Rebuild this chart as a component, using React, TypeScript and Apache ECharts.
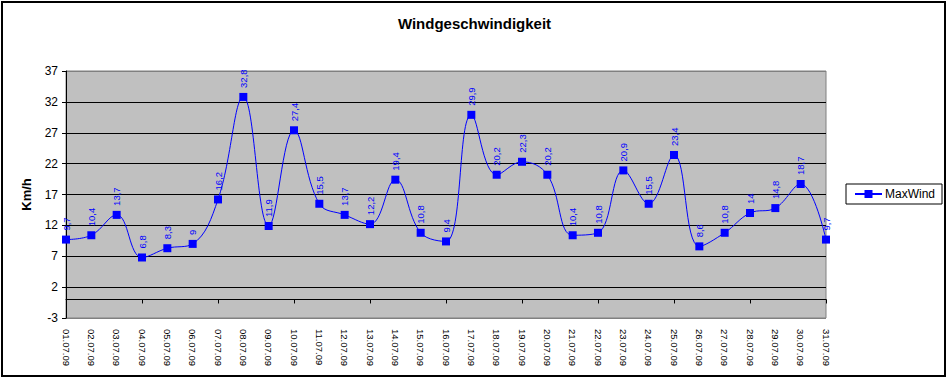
import React, { useEffect, useRef } from "react";
import * as echarts from "echarts";

const categories = [
  "01.07.09", "02.07.09", "03.07.09", "04.07.09", "05.07.09", "06.07.09", "07.07.09",
  "08.07.09", "09.07.09", "10.07.09", "11.07.09", "12.07.09", "13.07.09", "14.07.09",
  "15.07.09", "16.07.09", "17.07.09", "18.07.09", "19.07.09", "20.07.09", "21.07.09",
  "22.07.09", "23.07.09", "24.07.09", "25.07.09", "26.07.09", "27.07.09", "28.07.09",
  "29.07.09", "30.07.09", "31.07.09",
];

const maxWind = [
  9.7, 10.4, 13.7, 6.8, 8.3, 9, 16.2, 32.8, 11.9, 27.4, 15.5, 13.7, 12.2, 19.4, 10.8, 9.4,
  29.9, 20.2, 22.3, 20.2, 10.4, 10.8, 20.9, 15.5, 23.4, 8.6, 10.8, 14, 14.8, 18.7, 9.7,
];

const yMin = -3;
const yMax = 37;
const yStep = 5;

const FONT = "'Liberation Sans', Arial, sans-serif";

export default function App() {
  const ref = useRef<HTMLDivElement>(null);

  useEffect(() => {
    document.body.style.margin = "0";
    if (!ref.current) return;
    const chart = echarts.init(ref.current, null, { renderer: "svg" });
    chart.setOption({
      animation: false,
      backgroundColor: "#ffffff",
      textStyle: { fontFamily: FONT },
      graphic: [
        {
          type: "rect",
          shape: { x: 2, y: 2, width: 943, height: 374 },
          style: { fill: "none", stroke: "#000000", lineWidth: 2 },
          silent: true,
        },
      ],
      title: {
        text: "Windgeschwindigkeit",
        left: "center",
        top: 11,
        textStyle: { fontFamily: FONT, fontSize: 15, fontWeight: "bold", color: "#000000" },
      },
      legend: {
        left: 846,
        top: 184,
        orient: "vertical",
        padding: [4, 7, 4, 8],
        borderColor: "#000000",
        borderWidth: 1,
        backgroundColor: "#ffffff",
        itemWidth: 27,
        itemHeight: 10,
        itemGap: 3,
        textStyle: { fontFamily: FONT, fontSize: 12, color: "#000000", padding: [0, 0, 0, -2] },
        data: ["MaxWind"],
      },
      grid: {
        left: 66,
        right: 123,
        top: 71,
        bottom: 60,
        show: true,
        backgroundColor: "#C0C0C0",
        borderColor: "#808080",
        borderWidth: 1,
        containLabel: false,
        outerBoundsMode: "none",
      },
      xAxis: [
        {
          type: "category",
          data: categories,
          boundaryGap: false,
          axisLine: { show: true, onZero: true, lineStyle: { color: "#000000", width: 1 } },
          axisTick: { show: true, length: 4, inside: false, lineStyle: { color: "#000000" }, alignWithLabel: true },
          axisLabel: { show: false },
          splitLine: { show: false },
        },
        {
          type: "category",
          data: categories,
          boundaryGap: false,
          position: "bottom",
          axisLine: { show: false, onZero: false },
          axisTick: { show: false },
          axisLabel: {
            show: true,
            rotate: -90,
            interval: 0,
            margin: 11,
            fontFamily: FONT,
            fontSize: 9.5,
            color: "#000000",
          },
          splitLine: { show: false },
        },
      ],
      yAxis: {
        type: "value",
        min: yMin,
        max: yMax,
        interval: yStep,
        name: "Km/h",
        nameLocation: "middle",
        nameRotate: 90,
        nameGap: 33,
        nameTextStyle: { fontFamily: FONT, fontSize: 13, fontWeight: "bold", color: "#000000" },
        axisLine: { show: true, lineStyle: { color: "#000000", width: 1 } },
        axisTick: { show: true, length: 4, lineStyle: { color: "#000000" } },
        axisLabel: { fontFamily: FONT, fontSize: 12, color: "#000000", margin: 8 },
        splitLine: {
          show: true,
          lineStyle: {
            color: ["#808080", "#000000", "#000000", "#000000", "#000000", "#000000", "#000000", "#000000", "#808080"],
            width: 1,
          },
        },
      },
      series: [
        {
          name: "MaxWind",
          type: "line",
          xAxisIndex: 0,
          data: maxWind,
          smooth: 0.4,
          symbol: "rect",
          symbolSize: 8,
          showAllSymbol: true,
          lineStyle: { color: "#0000FF", width: 1 },
          itemStyle: { color: "#0000FF" },
          label: {
            show: true,
            position: "top",
            distance: 5,
            rotate: 90,
            align: "left",
            verticalAlign: "middle",
            fontFamily: FONT,
            fontSize: 9.5,
            color: "#0000FF",
            formatter: (p: any) => String(p.value).replace(".", ","),
          },
          emphasis: { disabled: true },
        },
      ],
    });
    return () => chart.dispose();
  }, []);

  return <div ref={ref} style={{ width: 949, height: 378 }} />;
}
